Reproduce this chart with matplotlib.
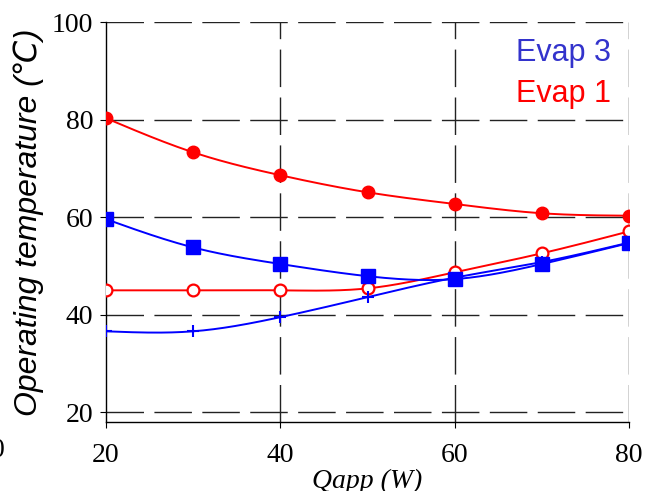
import numpy as np
import matplotlib
matplotlib.use('Agg')
import matplotlib.pyplot as plt

# Qapp (W)
q_app = [20, 30, 40, 50, 60, 70, 80]

# Evap 1 (red)
evap1_filled = [80.3, 73.3, 68.6, 65.1, 62.7, 60.8, 60.3]
evap1_open = [45.0, 45.0, 45.0, 45.4, 48.7, 52.6, 57.1]
# Evap 3 (blue)
evap3_square = [59.6, 53.8, 50.4, 47.9, 47.3, 50.4, 54.7]
evap3_plus = [36.6, 36.6, 39.5, 43.6, 47.6, 50.8, 54.8]


def natural_spline(x, y, n=200):
    # plain natural cubic spline, just to get the smooth curves
    x = np.asarray(x, float)
    y = np.asarray(y, float)
    k = len(x)
    h = np.diff(x)
    A = np.zeros((k, k))
    b = np.zeros(k)
    A[0, 0] = A[-1, -1] = 1
    for i in range(1, k - 1):
        A[i, i - 1] = h[i - 1]
        A[i, i] = 2 * (h[i - 1] + h[i])
        A[i, i + 1] = h[i]
        b[i] = 6 * ((y[i + 1] - y[i]) / h[i] - (y[i] - y[i - 1]) / h[i - 1])
    m = np.linalg.solve(A, b)
    xs = np.linspace(x[0], x[-1], n)
    idx = np.clip(np.searchsorted(x, xs) - 1, 0, k - 2)
    x0, x1 = x[idx], x[idx + 1]
    hh = x1 - x0
    t0, t1 = x1 - xs, xs - x0
    ys = (m[idx] * t0**3 + m[idx + 1] * t1**3) / (6 * hh) \
        + (y[idx] / hh - m[idx] * hh / 6) * t0 \
        + (y[idx + 1] / hh - m[idx + 1] * hh / 6) * t1
    return xs, ys


plt.rcParams['lines.scale_dashes'] = False

fig = plt.figure(figsize=(6.5, 4.91), dpi=100)
ax = fig.add_axes([0.163, 0.1405, 0.805, 0.8145])

red = '#ff0000'
blue = '#0000ff'

series = [
    (evap1_filled, red, dict(marker='o', ms=9, mfc=red, mec=red)),
    (evap1_open, red, dict(marker='o', ms=8.5, mfc='white', mec=red, mew=1.6)),
    (evap3_square, blue, dict(marker='s', ms=10, mfc=blue, mec=blue)),
    (evap3_plus, blue, dict(marker='+', ms=8, mec=blue, mew=1.5)),
]
for vals, col, mk in series:
    xs, ys = natural_spline(q_app, vals)
    ax.plot(xs, ys, color=col, lw=1.4, zorder=3)
    ax.plot(q_app, vals, ls='none', zorder=4, **mk)

ax.set_xlim(20, 80)
ax.set_ylim(18, 100)
ax.set_xticks([20, 40, 60, 80])
ax.set_yticks([20, 40, 60, 80, 100])
for y in [20, 40, 60, 80, 100]:
    ax.axhline(y, color='#222222', lw=1.0, ls=(0, (27, 7.5)), zorder=1)
for x in [40, 60, 80]:
    ax.axvline(x, color='#222222', lw=1.0, ls=(0, (27, 7.5)), zorder=1)

ax.spines['top'].set_visible(False)
ax.spines['right'].set_visible(False)
ax.spines['left'].set_linewidth(1.0)
ax.spines['bottom'].set_linewidth(1.0)
ax.tick_params(direction='out', length=4, width=0.8, labelsize=20)
ax.tick_params(axis='x', pad=11)
ax.tick_params(axis='y', pad=5)
for lab in ax.get_xticklabels() + ax.get_yticklabels():
    lab.set_family('Liberation Serif')

ax.set_xlabel('Qapp (W)', family='Liberation Serif', style='italic',
              fontsize=20, labelpad=1)
ax.set_ylabel('Operating temperature (℃)', family=['Liberation Sans', 'DejaVu Sans'],
              style='italic', fontsize=23, labelpad=6)

ax.text(0.965, 0.922, 'Evap 3', transform=ax.transAxes, ha='right', va='center',
        color='#3333cc', fontsize=22, family='Liberation Sans')
ax.text(0.965, 0.82, 'Evap 1', transform=ax.transAxes, ha='right', va='center',
        color=red, fontsize=22, family='Liberation Sans')

# tick label of the neighbouring panel, cut by the crop
fig.text(-0.014, 0.083, '0', fontsize=20, family='Liberation Serif', va='center')

fig.savefig('out.png', dpi=100)
